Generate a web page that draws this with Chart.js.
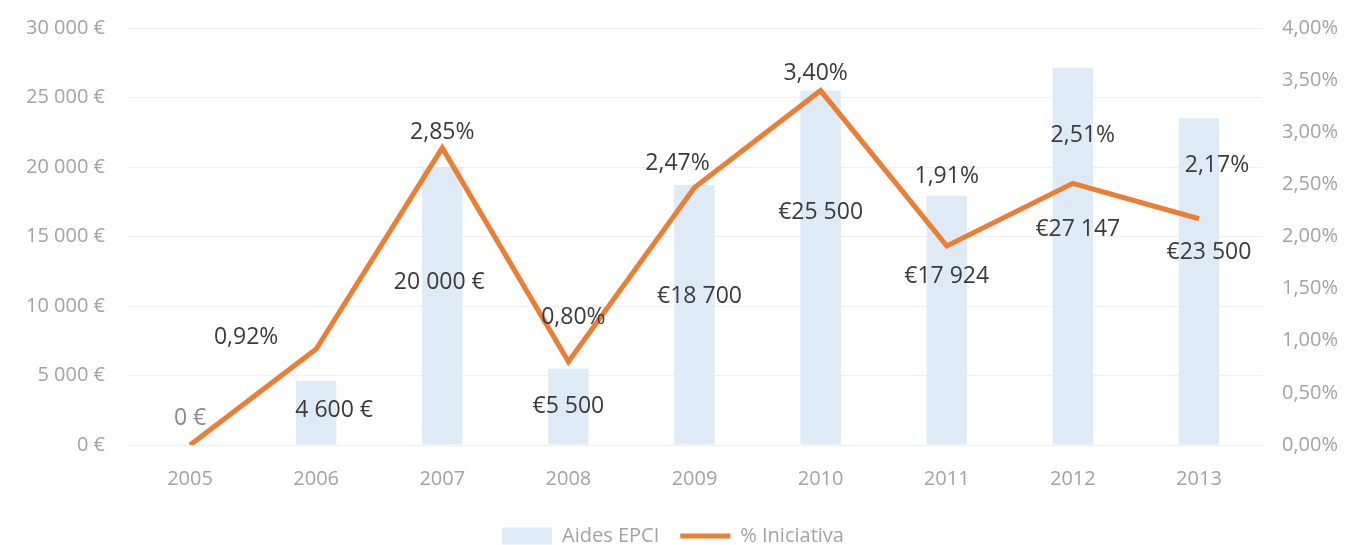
<!DOCTYPE html>
<html>
<head>
<meta charset="utf-8">
<script src="https://cdn.jsdelivr.net/npm/chart.js@4.4.1/dist/chart.umd.min.js"></script>
<style>
  body { margin: 0; background: #fff; }
  #wrap { width: 1346px; height: 545px; }
</style>
</head>
<body>
<div id="wrap"><canvas id="aidesChart" width="1346" height="545"></canvas></div>
<script>
// data
const years = ['2005', '2006', '2007', '2008', '2009', '2010', '2011', '2012', '2013'];
const aidesEpci = [0, 4600, 20000, 5500, 18700, 25500, 17924, 27147, 23500];
const pctIniciativa = [0, 0.92, 2.85, 0.80, 2.47, 3.40, 1.91, 2.51, 2.17];

// where the value labels sit, relative to their point (px)
const barLabelOffsets = [[0, -27], [18, 29], [-3, 115], [0, 38], [5, 111], [0, 122], [0, 81], [5, 162], [10, 134]];
const lineLabelOffsets = [null, [-70, -12], [0, -15], [5, -44], [-17, -24], [-5, -17], [0, -69], [10, -48], [18, -53]];

const TICK_COLOR = '#a3a3a3';
const LABEL_COLOR = '#3a3a3a';
const FONT = "'Open Sans', sans-serif";

function thousands(n) {
  return String(n).replace(/\B(?=(\d{3})+(?!\d))/g, ' ');
}

function barLabel(v, i) {
  // the first points use "x €", the later ones "€x"
  return i < 3 ? thousands(v) + ' €' : '€' + thousands(v);
}

function pctLabel(v) {
  return v.toFixed(2).replace('.', ',') + '%';
}

const valueLabels = {
  id: 'valueLabels',
  afterDatasetsDraw(chart) {
    const ctx = chart.ctx;
    ctx.save();
    ctx.textAlign = 'center';
    ctx.textBaseline = 'middle';
    ctx.font = '23px ' + FONT;

    chart.getDatasetMeta(0).data.forEach((bar, i) => {
      const off = barLabelOffsets[i];
      ctx.fillStyle = aidesEpci[i] === 0 ? '#8a8a8a' : LABEL_COLOR;
      ctx.fillText(barLabel(aidesEpci[i], i), bar.x + off[0], bar.y + off[1]);
    });

    chart.getDatasetMeta(1).data.forEach((pt, i) => {
      const off = lineLabelOffsets[i];
      if (!off) return;
      ctx.fillStyle = LABEL_COLOR;
      ctx.fillText(pctLabel(pctIniciativa[i]), pt.x + off[0], pt.y + off[1]);
    });
    ctx.restore();
  }
};

// fixed axis width, and no extra vertical room for the tick padding
function fitAxis(width) {
  return s => {
    s.width = width;
    s.paddingTop = 0;
    s.paddingBottom = 0;
  };
}

const ctx = document.getElementById('aidesChart').getContext('2d');

new Chart(ctx, {
  type: 'bar',
  data: {
    labels: years,
    datasets: [
      {
        type: 'bar',
        label: 'Aides EPCI',
        data: aidesEpci,
        backgroundColor: '#deebf7',
        borderWidth: 0,
        barPercentage: 0.32,
        categoryPercentage: 1,
        yAxisID: 'y',
        pointStyle: 'rect',
        order: 1
      },
      {
        type: 'line',
        label: '% Iniciativa',
        data: pctIniciativa,
        borderColor: '#ed7d31',
        backgroundColor: '#ed7d31',
        borderWidth: 5,
        pointRadius: 0,
        pointBorderWidth: 5,
        pointStyle: 'line',
        tension: 0,
        yAxisID: 'y1',
        order: 0
      }
    ]
  },
  options: {
    responsive: false,
    animation: false,
    layout: { padding: { top: 28, left: 0, right: 0, bottom: -11 } },
    plugins: {
      tooltip: { enabled: false },
      legend: {
        position: 'bottom',
        labels: {
          usePointStyle: true,
          pointStyleWidth: 50,
          boxHeight: 17,
          color: TICK_COLOR,
          font: { family: FONT, size: 20 },
          padding: 21,
          sort: (a, b) => a.datasetIndex - b.datasetIndex
        }
      }
    },
    scales: {
      x: {
        grid: { display: false },
        border: { display: false },
        ticks: { color: TICK_COLOR, font: { family: FONT, size: 20 }, padding: 14 }
      },
      y: {
        position: 'left',
        min: 0,
        max: 30000,
        grid: { color: '#efefef', drawTicks: false },
        border: { display: false },
        ticks: {
          stepSize: 5000,
          padding: 22,
          color: TICK_COLOR,
          font: { family: FONT, size: 20 },
          callback: v => thousands(v) + ' €'
        },
        afterFit: fitAxis(127)
      },
      y1: {
        position: 'right',
        min: 0,
        max: 4,
        grid: { display: false, drawTicks: false },
        border: { display: false },
        ticks: {
          stepSize: 0.5,
          padding: 20,
          color: TICK_COLOR,
          font: { family: FONT, size: 20 },
          callback: v => pctLabel(v)
        },
        afterFit: fitAxis(84)
      }
    }
  },
  plugins: [valueLabels]
});
</script>
</body>
</html>
